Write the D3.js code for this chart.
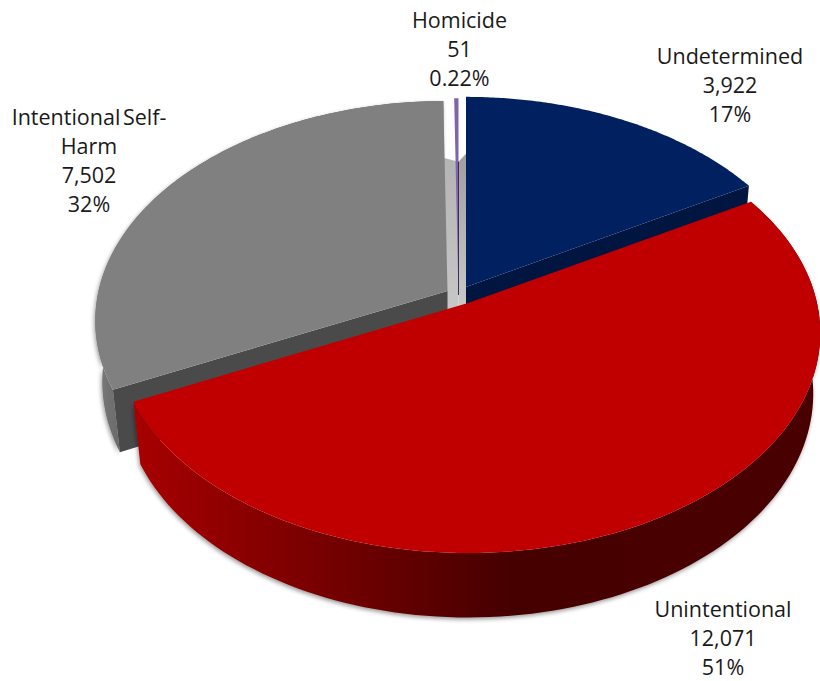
<!doctype html>
<html lang="en">
<head>
  <meta charset="utf-8">
  <title>Deaths by intent</title>
  <script src="https://cdn.jsdelivr.net/npm/d3@7"></script>
  <style>
    html, body { margin: 0; background: #fff; }
    text { font-family: "Open Sans", sans-serif; font-size: 21.5px; word-spacing: -3px; fill: #1a1a1a; text-anchor: middle; }
  </style>
</head>
<body>
<svg id="chart" width="820" height="681"></svg>
<script>
// values, clockwise from twelve o'clock
var categories = ["Undetermined", "Unintentional", "Intentional Self-Harm", "Homicide"];
var deaths = [3922, 12071, 7502, 51];
var valueLabels = ["3,922", "12,071", "7,502", "51"];
var percentLabels = ["17%", "51%", "32%", "0.22%"];
var topColors = ["#002060", "#c00000", "#808080", "#8064a8"];
var sideColors = ["#00153f", "#4a0000", "#4a4a4a", "#3f2a63"];

// where each exploded slice has its tip on the page, and how far it reaches
var tips = [[466, 287], [468, 303], [447.5, 291], [458.5, 295]];
var reach = [1, 1, 1, 1.04];

// pie plane seen in perspective
var radiusX = 349, radiusY = 216, tilt = 0.136, depth = 62, depthShrink = 0.02;

function project(angle, z, tip, r) {
  r = r === undefined ? 1 : r;
  var u = Math.sin(angle) * r, v = Math.cos(angle) * r;
  var w = 1 + tilt * v + depthShrink * z;
  return [tip[0] + radiusX * u / w, tip[1] - (radiusY * v - depth * z) / w];
}

var svg = d3.select("#chart");
var line = d3.line();
var defs = svg.append("defs");

var shadow = defs.append("filter").attr("id", "soft")
  .attr("x", "-10%").attr("y", "-10%").attr("width", "120%").attr("height", "120%");
shadow.append("feDropShadow").attr("dx", -1).attr("dy", 2).attr("stdDeviation", 2)
  .attr("flood-color", "#000").attr("flood-opacity", 0.4);

function addGradient(id, x1, y1, x2, y2, stops) {
  var g = defs.append("linearGradient").attr("id", id)
    .attr("gradientUnits", "userSpaceOnUse")
    .attr("x1", x1).attr("y1", y1).attr("x2", x2).attr("y2", y2);
  stops.forEach(function (s) { g.append("stop").attr("offset", s[0]).attr("stop-color", s[1]); });
}

addGradient("redWall", 130, 0, 815, 0, [[0, "#a80000"], [0.25, "#7c0000"], [0.47, "#550000"], [0.56, "#460000"], [1, "#4a0000"]]);
addGradient("grayWall", 92, 0, 125, 0, [[0, "#7d7d7d"], [1, "#666666"]]);
addGradient("gapLeft", 0, 157, 0, 305, [[0, "#b4b4b4"], [1, "#c6c6c6"]]);
addGradient("gapRight", 0, 157, 0, 305, [[0, "#a0a0a0"], [1, "#c8c8c8"]]);

var pie = d3.pie().sort(null)(deaths);

function arcPoints(d, z, tip, r) {
  return d3.range(0, 121).map(function (i) {
    return project(d.startAngle + (d.endAngle - d.startAngle) * i / 120, z, tip, r);
  });
}

function radialWall(angle, tip) {
  return [project(angle, 0, tip, 0), project(angle, 0, tip), project(angle, 1, tip), project(angle, 1, tip, 0)];
}

// far walls showing through the gap next to twelve o'clock
var gap = svg.append("g");
var purpleFoot = [project(0, 1, tips[3]), project(0, 1, tips[3], 0)];
gap.append("path")
  .attr("d", line([project(pie[2].endAngle, 1, tips[2]), purpleFoot[0], purpleFoot[1], project(pie[2].endAngle, 1, tips[2], 0)]))
  .attr("fill", "url(#gapLeft)");
gap.append("path")
  .attr("d", line([purpleFoot[0], project(0, 1, tips[0]), project(0, 1, tips[0], 0), purpleFoot[1]]))
  .attr("fill", "url(#gapRight)");

var order = [2, 0, 3, 1];
var slices = svg.append("g").selectAll("g").data(order).enter().append("g");

slices.each(function (i) {
  var g = d3.select(this), d = pie[i], tip = tips[i];
  var top = arcPoints(d, 0, tip, reach[i]), bottom = arcPoints(d, 1, tip, reach[i]).reverse();
  // outer wall, only the gray and the red ones are in view
  if (i === 1 || i === 2) {
    g.append("path")
      .attr("d", line(top.concat(bottom)) + "Z")
      .attr("fill", i === 1 ? "url(#redWall)" : "url(#grayWall)")
      .attr("filter", "url(#soft)");
  }
  if (i === 2) {
    g.append("path").attr("d", line(radialWall(d.startAngle, tip)) + "Z").attr("fill", sideColors[2]);
  }
  if (i === 0) {
    g.append("path").attr("d", line(radialWall(d.endAngle, tip)) + "Z").attr("fill", sideColors[0]);
  }
  g.append("path")
    .attr("d", line([project(0, 0, tip, 0)].concat(top)) + "Z")
    .attr("fill", topColors[i]);
  if (i === 3) {
    // thin dark side of the homicide sliver
    g.append("path")
      .attr("d", line([project(d.endAngle, 1, tip), project(d.endAngle, 0, tip, 0)]))
      .attr("stroke", sideColors[3]).attr("stroke-width", 1).attr("fill", "none");
  }
});

// label blocks, centred x and first baseline
var labelSpots = [[730, 64], [723, 616.5], [89, 125], [459.5, 28]];
var lineGap = 29;

categories.forEach(function (name, i) {
  var rows = (name === "Intentional Self-Harm" ? ["Intentional Self-", "Harm"] : [name])
    .concat([valueLabels[i], percentLabels[i]]);
  var label = svg.append("text");
  rows.forEach(function (row, j) {
    label.append("tspan")
      .attr("x", labelSpots[i][0])
      .attr("y", labelSpots[i][1] + j * lineGap)
      .text(row);
  });
});
</script>
</body>
</html>
